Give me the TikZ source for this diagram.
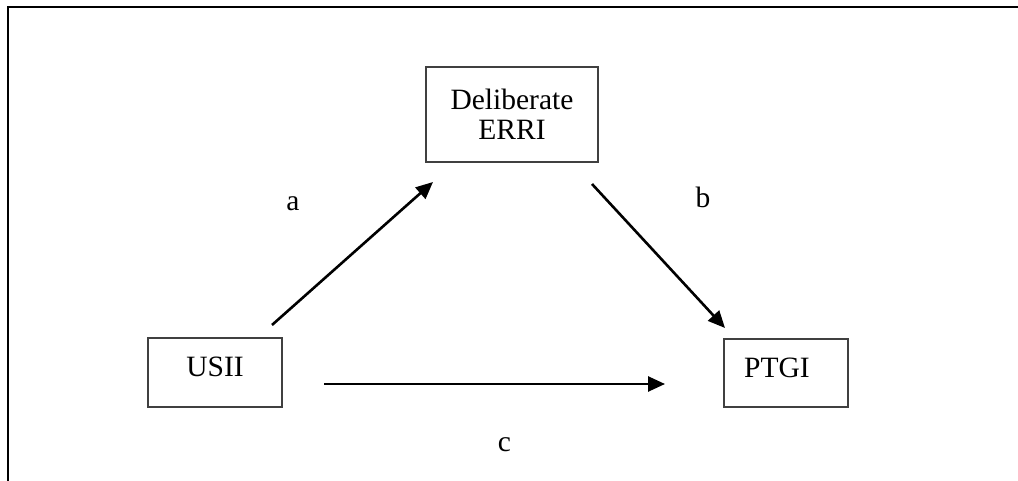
\documentclass[tikz,border=0pt]{standalone}
\usepackage{fontspec}
\setmainfont{Liberation Serif}
\usetikzlibrary{arrows.meta}
\begin{document}
\begin{tikzpicture}[x=1pt,y=-1pt,
  txt/.style={font=\fontsize{29.5pt}{30pt}\selectfont},
  box/.style={txt,draw=black!75,line width=1.4pt,align=center,inner sep=0pt},
  conn/.style={line width=2.6pt,-{Triangle[length=17pt,width=15pt]}},
  lbl/.style={txt,anchor=base,inner sep=0pt}]
\useasboundingbox (0,0) rectangle (1018,481);
% frame
\draw[line width=2.4pt] (1018,7) -- (8,7) -- (8,481);
% boxes
\node[box,minimum width=172pt,minimum height=95pt] (erri) at (512,114.5) {Deliberate\\ERRI};
\node[box,minimum width=134pt,minimum height=69pt,text height=19pt,text depth=11pt] (usii) at (215,372.5) {USII};
\node[box,minimum width=124pt,minimum height=68pt,text height=19pt,text depth=11pt] (ptgi) at (786,373) {PTGI\hspace*{18pt}};
% connector ends
\coordinate (a1) at (272,325);
\coordinate (a2) at (433,182);
\coordinate (b1) at (592,184);
\coordinate (b2) at (725,328);
\coordinate (c1) at (324,384);
\coordinate (c2) at (665,384);
\draw[conn] (a1) -- (a2);
\draw[conn] (b1) -- (b2);
\draw[conn] (c1) -- (c2);
% labels
\node[lbl] (la) at (293,210.5) {a};
\node[lbl] (lb) at (703,208) {b};
\node[lbl] (lc) at (504.5,451.5) {c};
\end{tikzpicture}
\end{document}
